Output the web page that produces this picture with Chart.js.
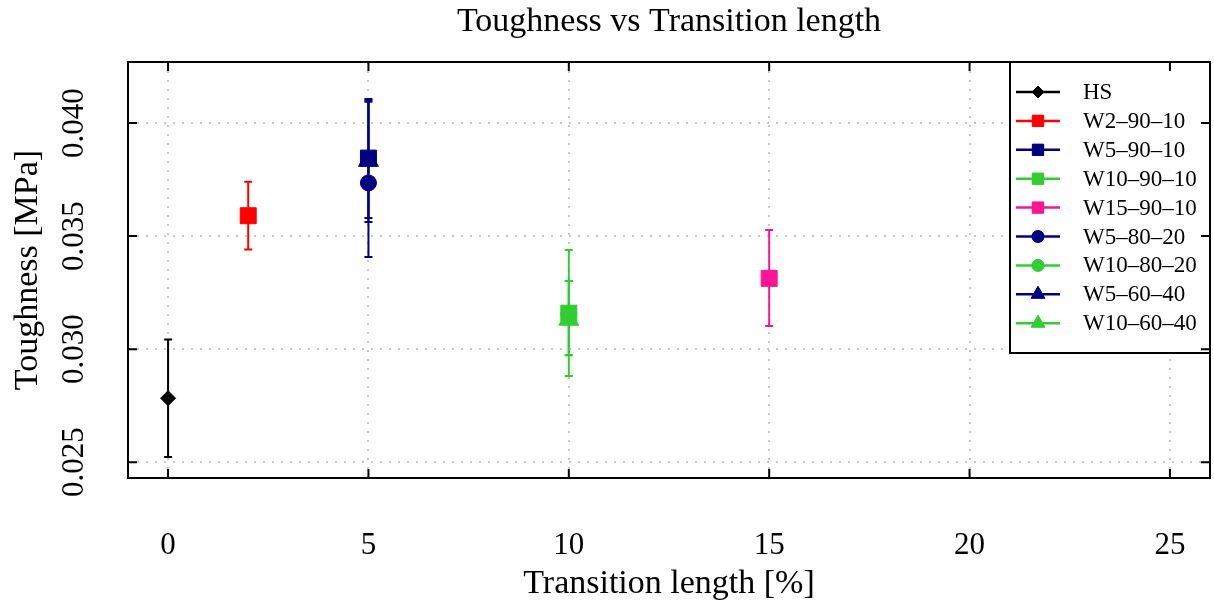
<!DOCTYPE html>
<html>
<head>
<meta charset="utf-8">
<script src="https://cdn.jsdelivr.net/npm/chart.js@4.4.0/dist/chart.umd.min.js"></script>
<style>
  html, body { margin: 0; padding: 0; background: #fff; }
</style>
</head>
<body>
<canvas id="toughnessChart" width="1214" height="608"></canvas>
<script>
const seriesNames = ['HS', 'W2–90–10', 'W5–90–10', 'W10–90–10', 'W15–90–10', 'W5–80–20', 'W10–80–20', 'W5–60–40', 'W10–60–40'];
const transitionLength = [0, 2, 5, 10, 15, 5, 10, 5, 10];
const toughness     = [0.02783, 0.03590, 0.03845, 0.03159, 0.03313, 0.03735, 0.03155, 0.03834, 0.03131];
const toughnessLow  = [0.02523, 0.03441, 0.03580, 0.02881, 0.03102, 0.03407, 0.02973, 0.03562, 0.02973];
const toughnessHigh = [0.03043, 0.03740, 0.04106, 0.03438, 0.03527, 0.04100, 0.03301, 0.04094, 0.03301];
const xTicks = [0, 5, 10, 15, 20, 25];
const yTicks = [0.025, 0.030, 0.035, 0.040];

const colors = ['#000000', '#ff0000', '#000080', '#32cd32', '#ff1493', '#000080', '#32cd32', '#000080', '#32cd32'];
const markers = ['rectRot', 'rect', 'rect', 'rect', 'rect', 'circle', 'circle', 'triangle', 'triangle'];
const plotRadius = { rectRot: 7.5, rect: 11.3, circle: 8, triangle: 11.5 };
const legendRadius = { rectRot: 6, rect: 8, circle: 6, triangle: 8 };
const serif = '"Liberation Serif", "DejaVu Serif", serif';

const datasets = seriesNames.map((name, i) => ({
  label: name,
  data: [{ x: transitionLength[i], y: toughness[i] }],
  backgroundColor: colors[i],
  borderColor: colors[i],
  pointStyle: markers[i],
  pointRadius: plotRadius[markers[i]],
  pointBorderWidth: 1,
  showLine: false
}));

// error bars go under the markers
const errorBars = {
  id: 'errorBars',
  beforeDatasetsDraw(chart) {
    const { ctx, scales: { x, y } } = chart;
    ctx.save();
    ctx.lineWidth = 2;
    for (let i = seriesNames.length - 1; i >= 0; i--) {
      const px = x.getPixelForValue(transitionLength[i]);
      const top = y.getPixelForValue(toughnessHigh[i]);
      const bot = y.getPixelForValue(toughnessLow[i]);
      ctx.strokeStyle = colors[i];
      ctx.beginPath();
      ctx.moveTo(px, top); ctx.lineTo(px, bot);
      ctx.moveTo(px - 4, top); ctx.lineTo(px + 4, top);
      ctx.moveTo(px - 4, bot); ctx.lineTo(px + 4, bot);
      ctx.stroke();
    }
    ctx.restore();
  }
};

// legend box, frame, inward ticks and all the text
const decorations = {
  id: 'decorations',
  afterDatasetsDraw(chart) {
    const { ctx, chartArea: a, scales: { x, y } } = chart;
    ctx.save();

    // legend in the top right corner
    const lw = 200, lh = 291;
    ctx.fillStyle = '#fff';
    ctx.fillRect(a.right - lw, a.top, lw, lh);
    ctx.lineWidth = 2;
    ctx.strokeStyle = '#000';
    ctx.strokeRect(a.right - lw, a.top, lw, lh);
    ctx.font = '23px ' + serif;
    ctx.textBaseline = 'middle';
    ctx.textAlign = 'left';
    seriesNames.forEach((name, i) => {
      const ry = a.top + 30 + i * 28.9;
      ctx.strokeStyle = colors[i];
      ctx.lineWidth = 2.5;
      ctx.beginPath();
      ctx.moveTo(a.right - 194, ry);
      ctx.lineTo(a.right - 150, ry);
      ctx.stroke();
      ctx.fillStyle = colors[i];
      ctx.lineWidth = 1;
      Chart.helpers.drawPoint(ctx, { pointStyle: markers[i], radius: legendRadius[markers[i]], borderWidth: 1, rotation: 0 }, a.right - 172, ry);
      ctx.fill();
      ctx.fillStyle = '#000';
      ctx.fillText(name, a.right - 127, ry + 1);
    });

    // tick marks pointing inward on all four sides
    ctx.strokeStyle = '#000';
    ctx.lineWidth = 2;
    ctx.beginPath();
    xTicks.forEach(v => {
      const px = x.getPixelForValue(v);
      ctx.moveTo(px, a.bottom); ctx.lineTo(px, a.bottom - 9);
      ctx.moveTo(px, a.top); ctx.lineTo(px, a.top + 9);
    });
    yTicks.forEach(v => {
      const py = y.getPixelForValue(v);
      ctx.moveTo(a.left, py); ctx.lineTo(a.left + 9, py);
      ctx.moveTo(a.right, py); ctx.lineTo(a.right - 9, py);
    });
    ctx.stroke();
    ctx.strokeRect(a.left, a.top, a.right - a.left, a.bottom - a.top);

    // title
    ctx.fillStyle = '#000';
    ctx.textAlign = 'center';
    ctx.textBaseline = 'alphabetic';
    ctx.font = '34px ' + serif;
    ctx.fillText('Toughness vs Transition length', (a.left + a.right) / 2, 31);

    // x ticks and title
    ctx.font = '31px ' + serif;
    xTicks.forEach(v => ctx.fillText(String(v), x.getPixelForValue(v), 554));
    ctx.font = '34px ' + serif;
    ctx.fillText('Transition length [%]', (a.left + a.right) / 2, 593);

    // y ticks (rotated) and title
    ctx.font = '31px ' + serif;
    yTicks.forEach(v => {
      ctx.save();
      ctx.translate(83, y.getPixelForValue(v));
      ctx.rotate(-Math.PI / 2);
      ctx.fillText(v.toFixed(3), 0, 0);
      ctx.restore();
    });
    ctx.font = '34px ' + serif;
    ctx.save();
    ctx.translate(37, (a.top + a.bottom) / 2);
    ctx.rotate(-Math.PI / 2);
    ctx.fillText('Toughness [MPa]', 0, 0);
    ctx.restore();

    ctx.restore();
  }
};

new Chart(document.getElementById('toughnessChart'), {
  type: 'scatter',
  data: { datasets: datasets },
  options: {
    responsive: false,
    animation: false,
    layout: { autoPadding: false, padding: { left: 128, right: 4, top: 62, bottom: 130 } },
    plugins: { legend: { display: false }, tooltip: { enabled: false }, title: { display: false } },
    scales: {
      x: {
        type: 'linear',
        min: -1,
        max: 26,
        afterBuildTicks: s => { s.ticks = xTicks.map(v => ({ value: v })); },
        ticks: { display: false },
        grid: { color: '#c8c8c8', lineWidth: 2, drawTicks: false },
        border: { display: false, dash: [2, 7] }
      },
      y: {
        type: 'linear',
        min: 0.0243,
        max: 0.0427,
        afterBuildTicks: s => { s.ticks = yTicks.map(v => ({ value: v })); },
        ticks: { display: false },
        grid: { color: '#c8c8c8', lineWidth: 2, drawTicks: false },
        border: { display: false, dash: [2, 7] }
      }
    }
  },
  plugins: [errorBars, decorations]
});
</script>
</body>
</html>
